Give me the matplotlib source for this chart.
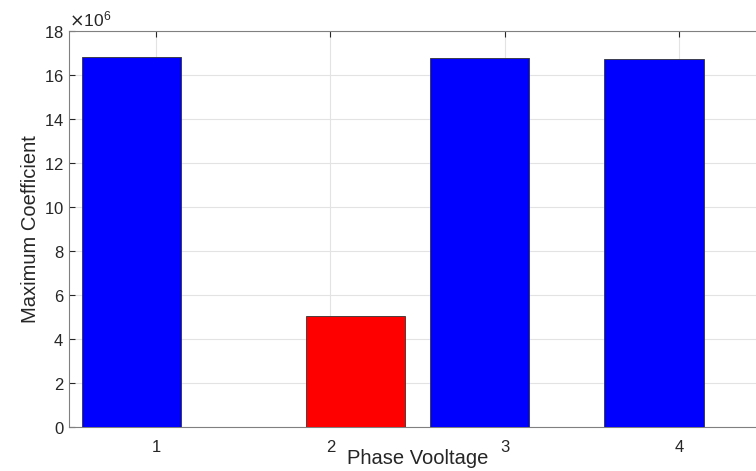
import numpy as np
import matplotlib.pyplot as plt
from matplotlib.ticker import ScalarFormatter

plt.rcParams['font.family'] = ['Liberation Sans', 'DejaVu Sans']

fases = [1, 2, 3, 4]
coef_normal = [16.8e6, 0, 16.76e6, 16.72e6]   # azul
coef_falta = [0, 5.05e6, 0, 0]                # vermelho

fig = plt.figure(figsize=(7.56, 4.71), dpi=100)
# eixo vai um pouco além da borda direita, como na figura original
ax = fig.add_axes([69/756, 44/471, 697/756, 396/471])

x = np.array(fases)
larg = 0.57
desl = 0.143
ax.bar(x - desl, coef_normal, width=larg, color='#0000ff', edgecolor='#333333', linewidth=0.6, zorder=3)
ax.bar(x + desl, coef_falta, width=larg, color='#ff0000', edgecolor='#333333', linewidth=0.6, zorder=3)

ax.set_xlim(0.5, 4.5)
ax.set_ylim(0, 18e6)
ax.set_xticks(fases)
ax.set_yticks(np.arange(0, 18.1e6, 2e6))

fmt = ScalarFormatter(useMathText=True)
fmt.set_powerlimits((6, 6))
ax.yaxis.set_major_formatter(fmt)
ax.yaxis.get_offset_text().set_fontsize(12.5)
ax.yaxis.get_offset_text().set_color('#262626')

ax.grid(True, color='#e3e3e3', linewidth=0.8, zorder=0)
ax.set_axisbelow(True)
ax.tick_params(direction='in', top=True, right=True, labelsize=12, colors='#262626', length=4)
ax.tick_params(axis='x', pad=9)
for s in ax.spines.values():
    s.set_color('#808080')
    s.set_linewidth(0.8)

ax.set_xlabel('Phase Vooltage', fontsize=14.5, color='#262626', labelpad=-4)
ax.set_ylabel('Maximum Coefficient', fontsize=14.5, color='#262626', labelpad=3)

plt.savefig('out.png', dpi=100)
